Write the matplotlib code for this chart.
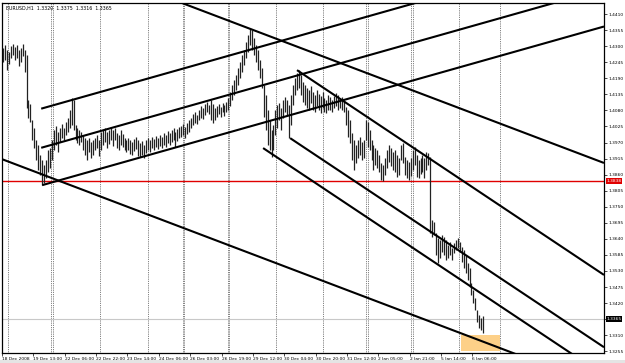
import numpy as np
import matplotlib.pyplot as plt
from matplotlib.patches import Rectangle

plt.rcParams['font.family'] = ['DejaVu Sans']

header_text = "EURUSD,H1  1.3320  1.3375  1.3316  1.3365"

# hourly bars, prices in points (1/10000)
bar_high = [
    14294, 14304, 14287, 14280, 14300, 14307, 14297, 14304, 14287, 14294,
    14307, 14287, 14270, 14115, 14102, 14047, 14020, 13978, 13961, 13927,
    13910, 13893, 13910, 13944, 13951, 13978, 14013, 14026, 14006, 14020,
    14033, 14020, 14040, 14054, 14081, 14122, 14115, 14030, 14020, 14013,
    14006, 13996, 13985, 13978, 13985, 13972, 13978, 13985, 13996, 13978,
    14006, 14013, 14020, 14006, 14013, 14023, 14013, 14020, 14002, 13996,
    14013, 13999, 13985, 13978, 13985, 13978, 13972, 13982, 13989, 13978,
    13968, 13975, 13961, 13978, 13985, 13978, 13989, 13982, 13992, 13985,
    13996, 13989, 14002, 13996, 14009, 14002, 14013, 14020, 14006, 14016,
    14023, 14026, 14033, 14023, 14037, 14047, 14054, 14068, 14074, 14064,
    14081, 14095, 14088, 14102, 14109, 14098, 14115, 14102, 14088, 14095,
    14102, 14091, 14105, 14098, 14109, 14122, 14143, 14167, 14184, 14201,
    14225, 14246, 14270, 14287, 14314, 14338, 14362, 14355, 14328, 14304,
    14287, 14252, 14225, 14167, 14133, 14081, 14047, 14013, 14030, 14081,
    14098, 14105, 14088, 14115, 14126, 14115, 14098, 14133, 14167, 14191,
    14208, 14218, 14201, 14177, 14167, 14157, 14150, 14163, 14143, 14133,
    14150, 14136, 14129, 14143, 14122, 14115, 14133, 14126, 14115, 14129,
    14139, 14133, 14122, 14126, 14115, 14091, 14081, 14047, 14002, 13978,
    13961, 13978, 13989, 13972, 13978, 14047, 14040, 14013, 13978, 13961,
    13951, 13944, 13927, 13900, 13893, 13917, 13944, 13961, 13951, 13937,
    13944, 13927, 13917, 13961, 13968, 13920, 13910, 13903, 13917, 13944,
    13954, 13927, 13910, 13917, 13927, 13917, 13937, 13934, 13920, 13705,
    13698, 13660, 13643, 13636, 13653, 13646, 13636, 13619, 13629, 13609,
    13626, 13636, 13643, 13629, 13612, 13602, 13585, 13557, 13540, 13489,
    13465, 13437, 13396, 13379, 13369, 13375,
]
bar_low = [
    14246, 14252, 14218, 14239, 14259, 14270, 14252, 14259, 14232, 14246,
    14266, 14211, 14088, 14054, 14040, 13978, 13951, 13910, 13876, 13859,
    13824, 13831, 13848, 13869, 13883, 13910, 13944, 13961, 13937, 13972,
    13985, 13978, 13996, 14006, 14020, 14030, 14013, 13978, 13968, 13961,
    13972, 13944, 13927, 13910, 13937, 13917, 13927, 13944, 13951, 13924,
    13944, 13961, 13972, 13951, 13965, 13978, 13958, 13978, 13951, 13944,
    13961, 13954, 13944, 13937, 13944, 13931, 13927, 13941, 13948, 13924,
    13920, 13927, 13917, 13934, 13944, 13937, 13951, 13944, 13954, 13948,
    13958, 13951, 13961, 13954, 13968, 13961, 13972, 13978, 13954, 13975,
    13985, 13989, 13996, 13985, 13999, 14006, 14020, 14030, 14037, 14033,
    14047, 14054, 14050, 14064, 14074, 14068, 14047, 14037, 14047, 14057,
    14068, 14057, 14074, 14061, 14074, 14081, 14095, 14115, 14133, 14150,
    14167, 14191, 14211, 14235, 14259, 14280, 14304, 14287, 14270, 14246,
    14218, 14191, 14157, 14057, 14013, 13961, 13944, 13920, 13944, 13996,
    14020, 14047, 14013, 14054, 14074, 14064, 13985, 14030, 14098, 14133,
    14150, 14157, 14133, 14109, 14098, 14088, 14081, 14105, 14081, 14074,
    14095, 14081, 14071, 14088, 14074, 14071, 14081, 14081, 14074, 14088,
    14095, 14081, 14088, 14081, 14074, 14030, 13989, 13968, 13910, 13876,
    13900, 13917, 13927, 13910, 13917, 13978, 13954, 13944, 13910, 13876,
    13893, 13883, 13869, 13842, 13838, 13859, 13883, 13903, 13889, 13876,
    13869, 13852, 13859, 13910, 13900, 13859, 13848, 13842, 13855, 13876,
    13893, 13852, 13848, 13862, 13869, 13848, 13876, 13893, 13660, 13646,
    13653, 13585, 13557, 13574, 13595, 13585, 13568, 13574, 13585, 13568,
    13591, 13602, 13609, 13595, 13561, 13540, 13523, 13499, 13475, 13448,
    13420, 13396, 13355, 13335, 13328, 13316,
]
assert len(bar_high) == len(bar_low)

time_labels = ["18 Dec 2008", "19 Dec 13:00", "22 Dec 06:00", "22 Dec 22:00",
               "23 Dec 14:00", "24 Dec 06:00", "26 Dec 03:00", "26 Dec 19:00",
               "29 Dec 12:00", "30 Dec 04:00", "30 Dec 20:00", "31 Dec 12:00",
               "2 Jan 05:00", "2 Jan 21:00", "5 Jan 14:00", "6 Jan 06:00"]
bars_per_label = 16

# period separators (bar index where a new day starts)
day_starts = [2.6, 24.5, 25.5, 49.5, 74, 91.8, 92.5, 114.8, 115.5, 139.3,
              163.3, 185.2, 186.2, 208.2, 209.2, 232.7, 253.6]

price_labels = ["1.4410", "1.4355", "1.4300", "1.4245", "1.4190", "1.4135",
                "1.4080", "1.4025", "1.3970", "1.3915", "1.3860", "1.3805",
                "1.3750", "1.3695", "1.3640", "1.3585", "1.3530", "1.3475",
                "1.3420", "1.3365", "1.3310", "1.3255"]

# trend lines: (bar1, price1, bar2, price2), drawn as rays to the right
channel_up = [(19.5, 1.4086, 126, 1.4288),
              (19.5, 1.3952, 126, 1.4154),
              (20.0, 1.3824, 126, 1.4025)]
big_down = [(91.3, 1.4448, 306.6, 1.3900),
            (-0.5, 1.3913, 100, 1.3657)]
channel_down = [(150.0, 1.4218, 250, 1.3770),
                (146.5, 1.3985, 250, 1.3522),
                (132.7, 1.3951, 250, 1.3426)]

support_level = 1.3838
bid_price = 1.3365
# (bar start, bar end, price low, price high)
target_box = (233.7, 253.6, 1.3256, 1.3311)

fig = plt.figure(figsize=(6.25, 3.63), dpi=100)
fig.patch.set_facecolor("white")
ax = fig.add_axes([2 / 625, 10 / 363, 602 / 625, 350 / 363])

x_min, x_max = -0.5, 306.6
ax.set_xlim(x_min, x_max)
ax.set_ylim(1.3249, 1.4448)

x0, x1, p0, p1 = target_box
ax.add_patch(Rectangle((x0, p0), x1 - x0, p1 - p0, facecolor="#FDD088",
                       edgecolor="none", zorder=0))

for d in day_starts:
    ax.axvline(d, color="#555555", lw=0.6, ls=(0, (1, 1.2)), zorder=1)

ax.axhline(bid_price, color="#c8c8c8", lw=0.8, zorder=1)
ax.axhline(support_level, color="#e00000", lw=1.0, zorder=2)

idx = np.arange(len(bar_high))
ax.vlines(idx, np.array(bar_low) / 10000, np.array(bar_high) / 10000,
          color="#222222", lw=0.9, zorder=3)

for t1, q1, t2, q2 in channel_up + big_down + channel_down:
    slope = (q2 - q1) / (t2 - t1)
    xs = np.array([max(t1, x_min), x_max])
    ax.plot(xs, q1 + slope * (xs - t1), color="black", lw=1.5, zorder=4,
            solid_capstyle="butt")

# axes styling
for s in ax.spines.values():
    s.set_color("black")
    s.set_linewidth(0.9)
ax.yaxis.tick_right()
ax.set_yticks([float(p) for p in price_labels])
# the bid box takes the place of its own tick label
ax.set_yticklabels(["" if p == f"{bid_price:.4f}" else p for p in price_labels])
ax.set_xticks([bars_per_label * k - 0.5 for k in range(len(time_labels))])
ax.set_xticklabels(time_labels, ha="left")
ax.tick_params(axis="both", labelsize=3.2, length=2, width=0.5, pad=1,
               colors="black")

tr = ax.get_yaxis_transform()
ax.text(1.004, support_level, "1.3838", transform=tr, fontsize=3.2,
        color="white", va="center", ha="left", zorder=6,
        bbox=dict(boxstyle="square,pad=0.15", fc="#e00000", ec="none"))
ax.text(1.004, bid_price, "1.3365", transform=tr, fontsize=3.2,
        color="white", va="center", ha="left", zorder=6,
        bbox=dict(boxstyle="square,pad=0.15", fc="black", ec="none"))

ax.text(0.006, 0.992, header_text, transform=ax.transAxes, fontsize=3.4,
        va="top", ha="left")

fig.patches.append(Rectangle((0, 0), 1, 3 / 363, transform=fig.transFigure,
                             facecolor="#e4e4e4", edgecolor="none"))

plt.savefig("out.png", dpi=100)
